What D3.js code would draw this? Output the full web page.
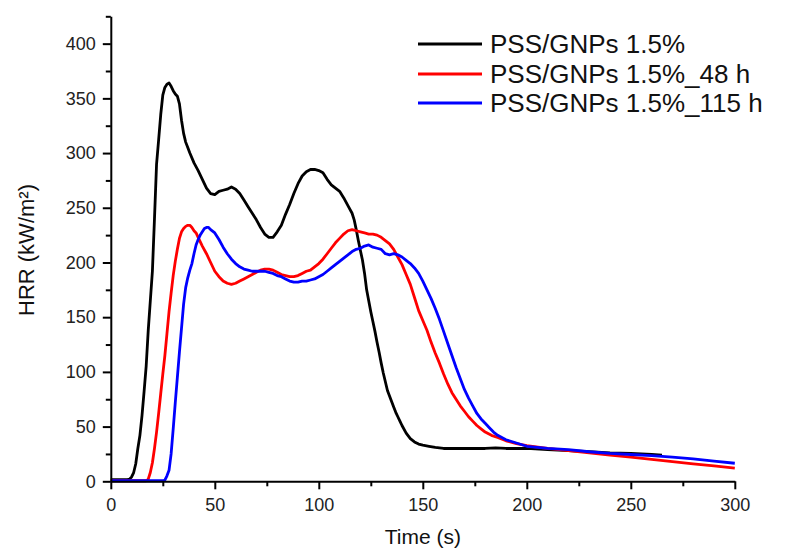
<!DOCTYPE html>
<html><head><meta charset="utf-8">
<script src="https://cdn.jsdelivr.net/npm/d3@7/dist/d3.min.js"></script>
<style>body{margin:0;background:#fff}svg{display:block}</style>
</head><body>
<svg id="c" width="786" height="548"></svg>
<script>
const seriesNames = ["PSS/GNPs 1.5%", "PSS/GNPs 1.5%_48 h", "PSS/GNPs 1.5%_115 h"];
const seriesColors = ["#000000", "#ff0000", "#0000ff"];
const xTicks = [0, 50, 100, 150, 200, 250, 300];
const yTicks = [0, 50, 100, 150, 200, 250, 300, 350, 400];

const blackT = [0,5,8,9,10,11,12,13,14,15,16,17,18,19,20,21,22,23,24,25,26,27,28,29,30,31,32,33,34,35,36,37,38,40,42,44,46,48,50,52,54,56,58,60,62,64,66,68,70,72,74,76,78,80,82,84,86,88,90,92,94,96,98,100,102,104,106,108,110,112,114,116,117,118,119,120,121,122,123,124,125,126,127,128,129,130,131,132,133,134,135,136,137,138,139,140,142,144,146,148,150,153,156,160,165,170,175,180,185,190,195,200,210,220,230,240,250,260,265];
const blackV = [1.5,1.5,1.5,2,4,8,16,30,42,60,82,105,138,165,192,240,290,312,335,353,360,363,364,361,357,354,352,345,330,318,310,305,300,291,284,276,268,263,262,265,266,267,269,267,263,257,251,245,239,232,226,223,223,228,234,244,253,263,272,279,283,285,285,284,282,276,271,268,265,259,252,245,239,230,220,211,202,190,175,165,155,146,137,127,118,108,99,91,83,78,73,68,63,59,55,51,44,39,36,34,33,32,31,30,30,30,30,30,30.5,30,30,30,29,28,27,26,25.5,24.5,24];

const redT = [0,17,18,19,20,21,22,23,24,25,26,27,28,29,30,31,32,33,34,35,36,37,38,39,40,41,42,44,46,48,50,52,54,56,58,60,62,64,66,68,70,72,74,76,78,80,82,84,86,88,90,92,94,96,98,100,102,104,106,108,110,112,114,116,118,120,122,124,126,128,130,132,134,136,138,140,142,144,146,148,150,152,154,156,158,160,162,164,166,168,170,172,174,176,178,180,183,186,190,195,200,210,220,230,240,250,260,270,280,290,300];
const redV = [0.5,0.5,2,8,17,30,45,62,80,98,115,135,155,172,188,201,212,222,228,231,233,234,234,232,229,227,223,215,208,200,192,187,183,181,180,181,183,185,187,189,191,193,194,194,193,191,189,188,187,187,188,190,192,193,196,199,203,208,213,218,222,226,229,230,229,228,227,226,226,225,223,220,217,212,205,198,189,180,168,156,147,138,127,117,108,98,89,81,75,69,64,59,55,51,48,45,42,40,37,34.5,32.5,30,28,26,24,22,20,18,16,14,12];

const blueT = [0,25,26,27,28,29,30,31,32,33,34,35,36,37,38,39,40,41,42,43,44,45,46,47,48,50,52,54,56,58,60,62,64,66,68,70,72,74,76,78,80,82,84,86,88,90,92,94,96,98,100,102,104,106,108,110,112,114,116,118,120,122,124,126,128,130,132,134,136,138,140,142,144,146,148,150,152,154,156,158,160,162,164,166,168,170,172,174,176,178,180,182,184,186,188,190,195,200,210,220,230,240,250,260,270,280,290,300];
const blueV = [0.5,0.5,1,5,10,25,48,72,95,118,140,162,177,186,193,199,208,216,221,225,228,231,232,232,230,227,221,214,208,203,199,196,194,193,192,192,192,192,191,190,188,187,185,183,182,182,183,183,184,185,187,189,192,195,198,201,204,207,210,212,213,215,216,214,213,212,208,207,208,207,205,202,199,195,190,183,175,167,158,148,137,126,115,104,94,84,76,69,62,57,53,49,45,42,40,38,35,32,30,29,27,25.5,24.5,23.5,22,20.5,18.5,16.5];

const seriesT = [blackT, redT, blueT];
const seriesV = [blackV, redV, blueV];

const svg = d3.select("#c");
const x = d3.scaleLinear().domain([0, 300]).range([110.8, 734.8]);
const y = d3.scaleLinear().domain([0, 425]).range([481.3, 16.3]);
const font = "'Liberation Sans', Arial, sans-serif";

// lines
const line = d3.line().x(d => x(d[0])).y(d => y(d[1]));
seriesT.forEach((ts, i) => {
  const pts = ts.map((t, j) => [t, seriesV[i][j]]);
  svg.append("path").datum(pts).attr("d", line)
    .attr("fill", "none").attr("stroke", seriesColors[i])
    .attr("stroke-width", 2.8).attr("stroke-linejoin", "round");
});

// axes
const xAxis = svg.append("g").attr("transform", `translate(0,${y(0)})`)
  .call(d3.axisBottom(x).tickValues(xTicks).tickSize(8).tickSizeOuter(0).tickPadding(9).tickFormat(d3.format("d")));
const xMinor = svg.append("g").attr("transform", `translate(0,${y(0)})`)
  .call(d3.axisBottom(x).tickValues([25,75,125,175,225,275]).tickSize(5).tickSizeOuter(0).tickFormat(""));
xMinor.select(".domain").remove();
const yAxis = svg.append("g").attr("transform", `translate(${x(0)},0)`)
  .call(d3.axisLeft(y).tickValues(yTicks).tickSize(8).tickSizeOuter(0).tickPadding(7).tickFormat(d3.format("d")));
const yMinor = svg.append("g").attr("transform", `translate(${x(0)},0)`)
  .call(d3.axisLeft(y).tickValues([25,75,125,175,225,275,325,375,425]).tickSize(5).tickSizeOuter(0).tickFormat(""));
yMinor.select(".domain").remove();
[xAxis, yAxis, xMinor, yMinor].forEach(g => {
  g.selectAll("path,line").attr("stroke", "#000").attr("stroke-width", 2);
  g.selectAll("text").attr("font-family", font).attr("font-size", 18).attr("fill", "#222");
});

// axis titles
svg.append("text").attr("x", x(150)).attr("y", 544).attr("text-anchor", "middle")
  .attr("font-family", font).attr("font-size", 21).attr("fill", "#111").text("Time (s)");
svg.append("text").attr("transform", `translate(34,250) rotate(-90)`).attr("text-anchor", "middle")
  .attr("font-family", font).attr("font-size", 22).attr("fill", "#111").text("HRR (kW/m²)");

// legend
const legY = [44, 74, 103];
seriesNames.forEach((n, i) => {
  svg.append("line").attr("x1", 418).attr("x2", 482).attr("y1", legY[i]).attr("y2", legY[i])
    .attr("stroke", seriesColors[i]).attr("stroke-width", 2.8);
  svg.append("text").attr("x", 490).attr("y", legY[i]).attr("dy", "0.36em")
    .attr("font-family", font).attr("font-size", 26).attr("fill", "#111").text(n);
});
</script>
</body></html>
